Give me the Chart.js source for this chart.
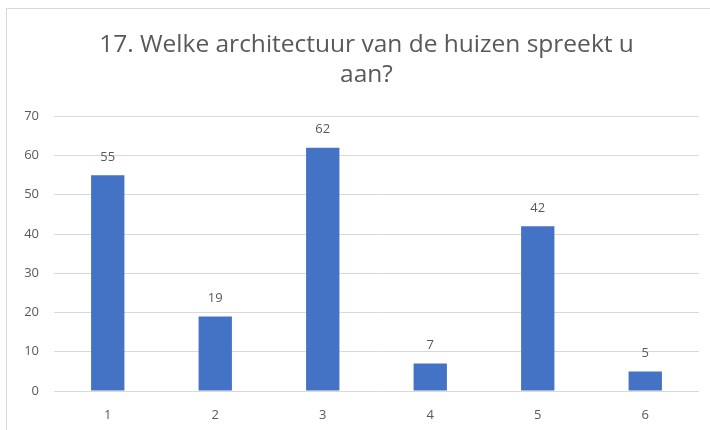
<!DOCTYPE html>
<html>
<head>
<meta charset="utf-8">
<script src="https://cdn.jsdelivr.net/npm/chart.js@4/dist/chart.umd.min.js"></script>
<style>
  html, body { margin: 0; padding: 0; background: #fff; }
  #wrap {
    position: absolute; left: 6px; top: 8px; width: 704px; height: 422px;
    border-left: 1px solid #d9d9d9; border-top: 1px solid #d9d9d9;
    box-sizing: border-box;
  }
</style>
</head>
<body>
<div id="wrap"><canvas id="chart"></canvas></div>
<script>
    'use strict';

    var categories = ['1', '2', '3', '4', '5', '6'];
    var answers = [55, 19, 62, 7, 42, 5];
    var titleLines = ['17. Welke architectuur van de huizen spreekt u', 'aan?'];

    var FONT = '"Open Sans", "Liberation Sans", sans-serif';
    var GREY = '#595959';

    // value labels above each bar
    var barLabels = {
        id: 'barLabels',
        afterDatasetsDraw: function (chart) {
            var ctx = chart.ctx;
            var meta = chart.getDatasetMeta(0);
            ctx.save();
            ctx.font = '13px ' + FONT;
            ctx.fillStyle = GREY;
            ctx.textAlign = 'center';
            ctx.textBaseline = 'middle';
            meta.data.forEach(function (bar, i) {
                ctx.fillText(answers[i], bar.x, bar.y - 18);
            });
            ctx.restore();
        }
    };

    // the title sits a bit right of the canvas centre in the original
    var titleShift = {
        id: 'titleShift',
        afterLayout: function (chart) {
            if (chart.titleBlock) {
                chart.titleBlock.left += 27;
            }
        }
    };

    new Chart(document.getElementById('chart'), {
        type: 'bar',
        data: {
            labels: categories,
            datasets: [{
                data: answers,
                backgroundColor: '#4472c4',
                barPercentage: 0.31,
                categoryPercentage: 1
            }]
        },
        options: {
            responsive: true,
            maintainAspectRatio: false,
            animation: false,
            layout: {padding: {left: 0, right: 11, top: 0, bottom: 6}},
            plugins: {
                legend: {display: false},
                tooltip: {enabled: false},
                title: {
                    display: true,
                    text: titleLines,
                    color: GREY,
                    font: {family: FONT, size: 24.5, weight: 'normal', lineHeight: 1.23},
                    padding: {top: 21, bottom: 26}
                }
            },
            scales: {
                x: {
                    grid: {display: false, drawTicks: false},
                    border: {display: false},
                    ticks: {color: GREY, font: {family: FONT, size: 13}, padding: 16},
                    afterFit: function (scale) { scale.height = 33; }
                },
                y: {
                    min: 0,
                    max: 70,
                    ticks: {stepSize: 10, color: GREY, font: {family: FONT, size: 13}, padding: 15},
                    grid: {color: '#d9d9d9', drawTicks: false},
                    border: {display: false},
                    afterFit: function (scale) { scale.width = 47; }
                }
            }
        },
        plugins: [barLabels, titleShift]
    });
</script>
</body>
</html>
